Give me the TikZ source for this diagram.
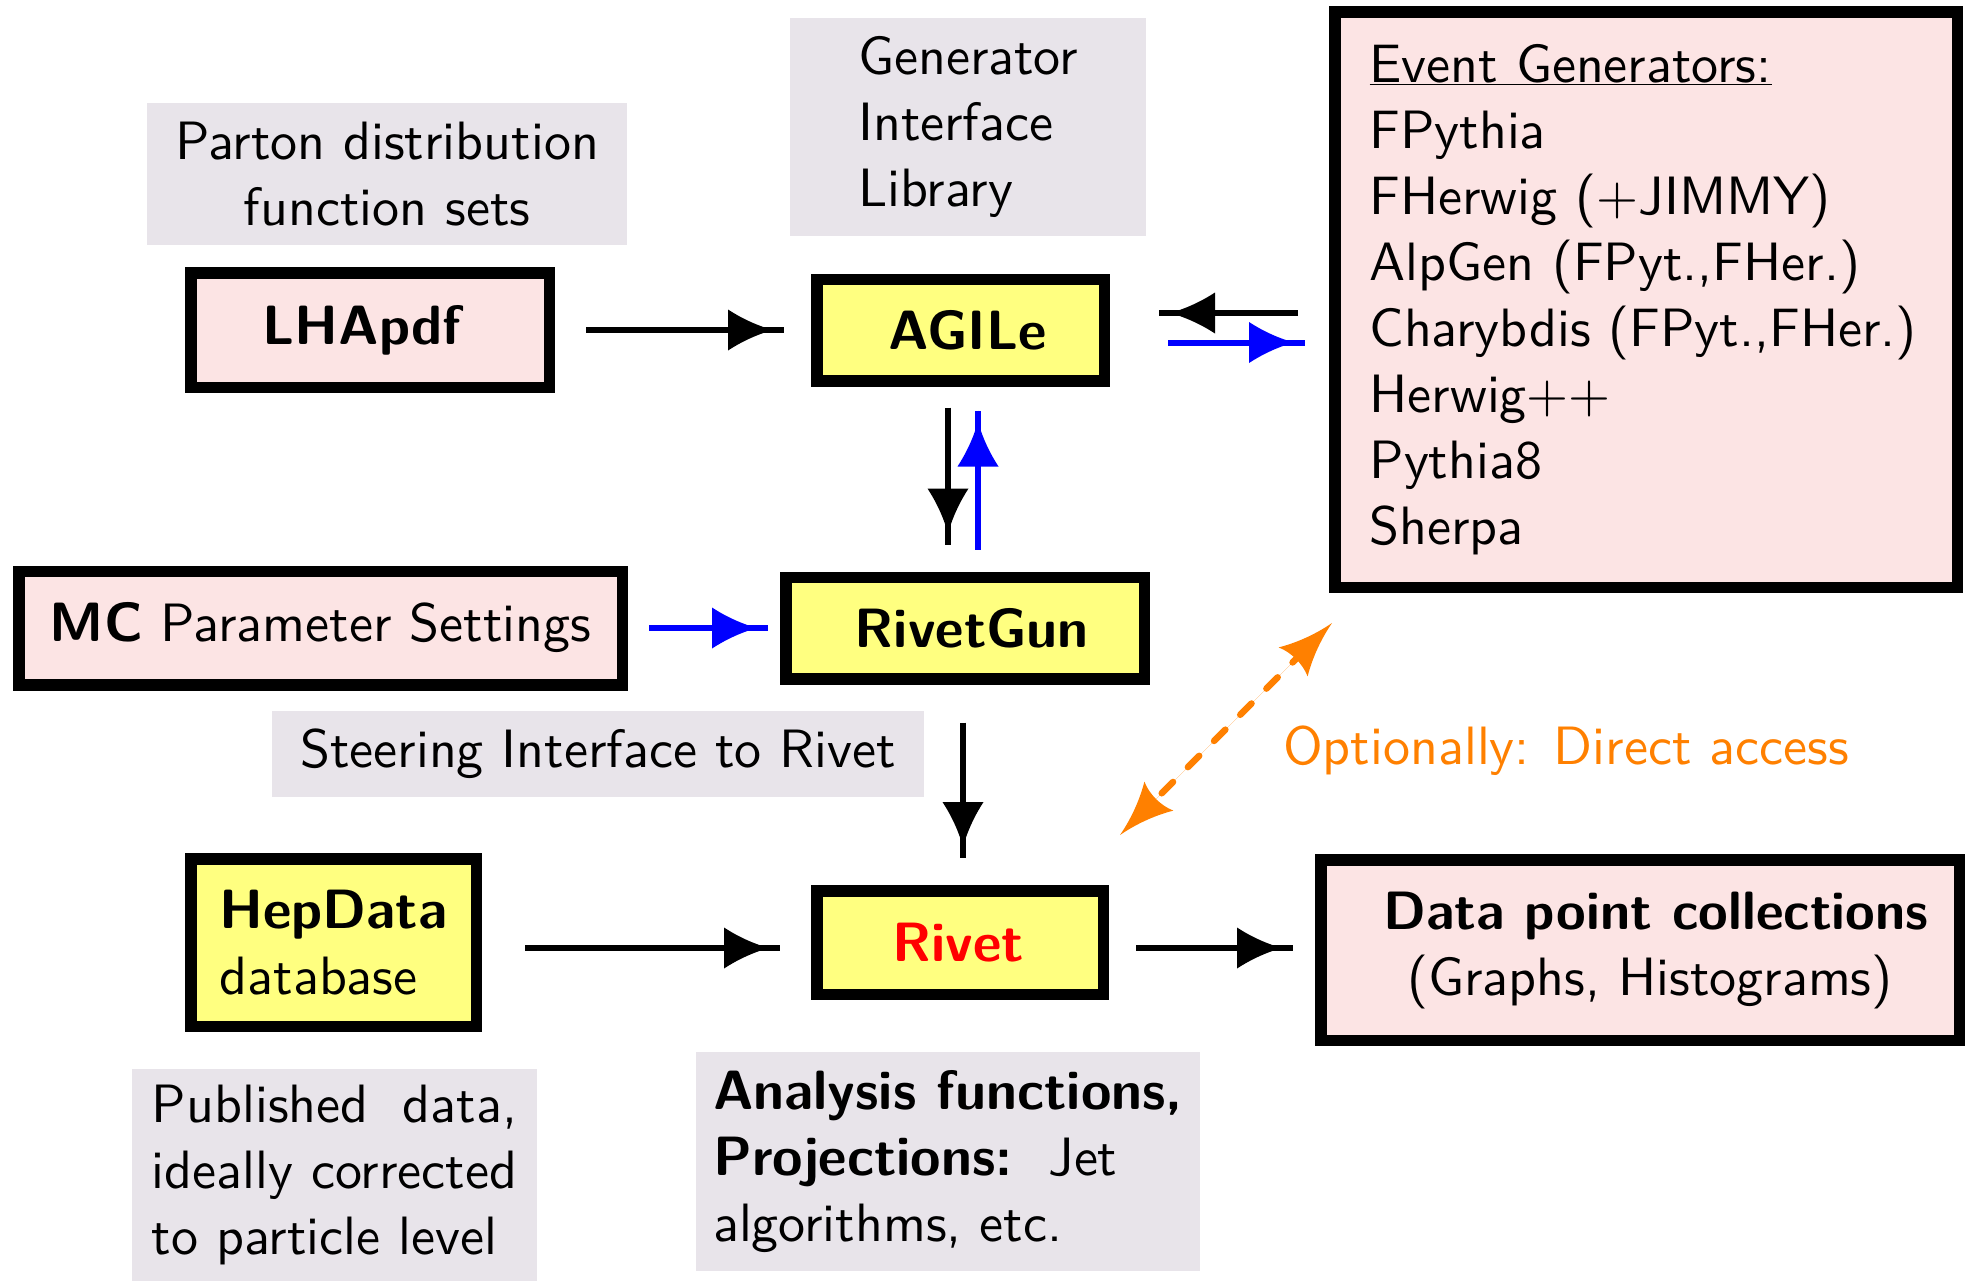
\documentclass[tikz,border=0pt]{standalone}
\usetikzlibrary{arrows.meta,calc}
\usepackage{calc}
\usepackage{fontspec}
\setmainfont{lmsans10-regular.otf}[BoldFont=lmsans10-bold.otf]
\newfontfamily\boldsf{lmsans10-bold.otf}[Scale=1.025]
\newcommand{\bsf}[1]{{\boldsf #1}}
\definecolor{pinkfill}{HTML}{FCE4E4}
\definecolor{yelfill}{HTML}{FFFF80}
\definecolor{grayfill}{HTML}{E8E4EA}
\definecolor{orng}{HTML}{FF8000}
\definecolor{blu}{HTML}{0000FF}
\definecolor{rivetred}{HTML}{FF0000}
% concave-sided arrow head; the line runs 11pt past the head's point
\pgfdeclarearrow{
  name = Fig,
  defaults = {length = +45pt, width = +41pt},
  parameters = {\the\pgfarrowlength,\the\pgfarrowwidth},
  setup code = {
    \pgfarrowssettipend{\dimexpr\pgfarrowlength+11pt\relax}
    \pgfarrowssetlineend{\dimexpr\pgfarrowlength+11pt\relax}
    \pgfarrowssetvisualbackend{0pt}
    \pgfarrowssetbackend{0pt}
    \pgfarrowshullpoint{\dimexpr\pgfarrowlength+11pt\relax}{0pt}
    \pgfarrowsupperhullpoint{0pt}{.5\pgfarrowwidth}
    \pgfarrowssavethe\pgfarrowlength
    \pgfarrowssavethe\pgfarrowwidth
  },
  drawing code = {
    \pgfpathmoveto{\pgfqpoint{\pgfarrowlength}{0pt}}
    \pgfpathcurveto{\pgfpoint{.6\pgfarrowlength}{.12\pgfarrowwidth}}{\pgfpoint{.25\pgfarrowlength}{.32\pgfarrowwidth}}{\pgfpoint{0pt}{.5\pgfarrowwidth}}
    \pgfpathlineto{\pgfpoint{0pt}{-.5\pgfarrowwidth}}
    \pgfpathcurveto{\pgfpoint{.25\pgfarrowlength}{-.32\pgfarrowwidth}}{\pgfpoint{.6\pgfarrowlength}{-.12\pgfarrowwidth}}{\pgfqpoint{\pgfarrowlength}{0pt}}
    \pgfpathclose
    \pgfusepathqfill
  }
}
% same head, line ending inside the head
\pgfdeclarearrow{
  name = FigO,
  defaults = {length = +55pt, width = +41pt},
  parameters = {\the\pgfarrowlength,\the\pgfarrowwidth},
  setup code = {
    \pgfarrowssettipend{\pgfarrowlength}
    \pgfarrowssetlineend{.6\pgfarrowlength}
    \pgfarrowssetvisualbackend{0pt}
    \pgfarrowssetbackend{0pt}
    \pgfarrowshullpoint{\pgfarrowlength}{0pt}
    \pgfarrowsupperhullpoint{0pt}{.5\pgfarrowwidth}
    \pgfarrowssavethe\pgfarrowlength
    \pgfarrowssavethe\pgfarrowwidth
  },
  drawing code = {
    \pgfpathmoveto{\pgfqpoint{\pgfarrowlength}{0pt}}
    \pgfpathcurveto{\pgfpoint{.6\pgfarrowlength}{.1\pgfarrowwidth}}{\pgfpoint{.25\pgfarrowlength}{.3\pgfarrowwidth}}{\pgfpoint{0pt}{.5\pgfarrowwidth}}
    \pgfpathcurveto{\pgfpoint{.1\pgfarrowlength}{.2\pgfarrowwidth}}{\pgfpoint{.1\pgfarrowlength}{-.2\pgfarrowwidth}}{\pgfpoint{0pt}{-.5\pgfarrowwidth}}
    \pgfpathcurveto{\pgfpoint{.25\pgfarrowlength}{-.3\pgfarrowwidth}}{\pgfpoint{.6\pgfarrowlength}{-.1\pgfarrowwidth}}{\pgfqpoint{\pgfarrowlength}{0pt}}
    \pgfpathclose
    \pgfusepathqfill
  }
}
\begin{document}
\begin{tikzpicture}[x=1pt,y=-1pt,
  every node/.style={font=\fontsize{54}{66}\selectfont},
  box/.style={draw=black, line width=11.5pt, inner sep=0pt},
  pinkbox/.style={box, fill=pinkfill},
  yelbox/.style={box, fill=yelfill},
  graybox/.style={fill=grayfill, inner sep=0pt},
  conn/.style={line width=6pt, -{Fig}},
  blackconn/.style={conn, draw=black},
  blueconn/.style={conn, draw=blu, fill=blu},
  optconn/.style={line width=6.5pt, draw=orng, fill=orng, line cap=round,
                  dash pattern=on 16pt off 21pt, {FigO}-{FigO}}
]
\useasboundingbox (0,0) rectangle (1969,1282);

% gray label boxes
\node[graybox, minimum width=480pt, minimum height=142pt, align=center] (parton) at (387,174)
  {Parton distribution\\function sets};
\node[graybox, minimum width=356pt, minimum height=218pt, align=left] (gil) at (968,127)
  {Generator\\Interface\\Library};
\node[graybox, minimum width=652pt, minimum height=86pt] (steer) at (598,754)
  {Steering Interface to Rivet};
\node[graybox, minimum width=405pt, minimum height=212pt, align=left] (pub) at (334.5,1175)
  {\makebox[\widthof{ideally corrected}][s]{Published data,}\\ideally corrected\\to particle level};
\node[graybox, minimum width=504pt, minimum height=219pt, align=left] (ana) at (948,1161.5)
  {\bsf{Analysis functions,}\\\bsf{Projections:}\ \ Jet\\algorithms, etc.};

% main boxes
\node[pinkbox, minimum width=358.5pt, minimum height=114.5pt] (LHApdf) at (370,330) {\bsf{LHApdf}\hspace*{16pt}};
\node[yelbox, minimum width=287.5pt, minimum height=101.5pt] (AGILe) at (960.5,330) {\hspace*{14pt}\bsf{AGILe}};
\node[pinkbox, minimum width=622.5pt, minimum height=575.5pt, text width=553pt, inner xsep=34.75pt, align=left] (EvGen) at (1646,299.5)
  {\underline{Event Generators:}\\FPythia\\FHerwig (+JIMMY)\\AlpGen (FPyt.,FHer.)\\Charybdis (FPyt.,FHer.)\\Herwig++\\Pythia8\\Sherpa};
\node[pinkbox, minimum width=603.5pt, minimum height=113.5pt] (MC) at (320.5,628) {\bsf{MC} Parameter Settings};
\node[yelbox, minimum width=358.5pt, minimum height=101.5pt] (RivetGun) at (965,628) {\hspace*{14pt}\bsf{RivetGun}};
\node[yelbox, minimum width=285.5pt, minimum height=167.5pt, align=left] (HepData) at (333.5,942.5) {\bsf{HepData}\\database};
\node[yelbox, minimum width=286.5pt, minimum height=103.5pt, text=rivetred] (Rivet) at (960,942.5) {\bsf{Rivet}\hspace*{4pt}};
\node[pinkbox, minimum width=638.5pt, minimum height=180.5pt, align=center] (Data) at (1640,950)
  {\hspace*{32pt}\textbf{Data point collections}\\\hspace*{20pt}(Graphs, Histograms)};

\node[text=orng] (opt) at (1566,751) {Optionally: Direct access};

% helper coordinates
\coordinate (e1) at ([yshift=-13.5pt]EvGen.west);
\coordinate (e2) at ([yshift=-12.5pt]AGILe.east);
\coordinate (v1) at ([xshift=-12.5pt]AGILe.south);
\coordinate (v2) at ([xshift=17.5pt]AGILe.south);
\coordinate (v3) at ([xshift=-2pt]RivetGun.south);
\coordinate (h1) at ([yshift=-5.5pt]HepData.east);
\coordinate (h2) at ([yshift=-5.5pt]Rivet.east);

% connectors
\draw[blackconn, shorten <=31pt, shorten >=27pt] (LHApdf.east) -- (AGILe.west);
\draw[blackconn, shorten <=31pt, shorten >=49pt] (e1) -- (e1 -| AGILe.east);
\draw[blueconn, shorten <=58pt, shorten >=24pt] (e2) -- (e2 -| EvGen.west);
\draw[blackconn, shorten <=21pt, shorten >=27pt] (v1) -- (v1 |- RivetGun.north);
\draw[blueconn, shorten <=22pt, shorten >=24pt] (v2 |- RivetGun.north) -- (v2);
\draw[blueconn, shorten <=21pt, shorten >=12pt] (MC.east) -- (RivetGun.west);
\draw[blackconn, shorten <=38pt, shorten >=27pt] (v3) -- (v3 |- Rivet.north);
\draw[blackconn, shorten <=43pt, shorten >=31pt] (h1) -- (h1 -| Rivet.west);
\draw[blackconn, shorten <=27pt, shorten >=22pt] (h2) -- (h2 -| Data.west);
\draw[optconn] ([shift={(11,-50)}]Rivet.north east) -- ([shift={(3,30)}]EvGen.south west);
\end{tikzpicture}
\end{document}
